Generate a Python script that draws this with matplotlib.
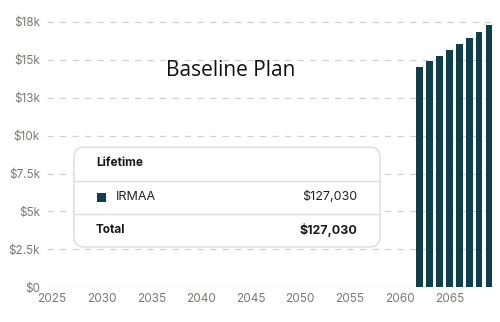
import matplotlib.pyplot as plt
from matplotlib.patches import FancyBboxPatch, Rectangle
from matplotlib.lines import Line2D

# yearly IRMAA surcharge
years = [2062, 2063, 2064, 2065, 2066, 2067, 2068, 2069]
irmaa = [14540, 14910, 15270, 15660, 16060, 16450, 16850, 17290]

y_ticks = [0, 2500, 5000, 7500, 10000, 12500, 15000, 17500]
y_labels = ["$0", "$2.5k", "$5k", "$7.5k", "$10k", "$13k", "$15k", "$18k"]
x_ticks = [2025, 2030, 2035, 2040, 2045, 2050, 2055, 2060, 2065]

lifetime_label = "IRMAA"
lifetime_value = "$127,030"
total_value = "$127,030"

bar_color = "#0f3f4b"
tick_color = "#7a7a76"

fig = plt.figure(figsize=(5, 3.22), dpi=100)
ax = fig.add_axes([0.094, 0.108, 0.894, 0.861])

ax.bar(years, irmaa, width=0.68, color=bar_color, zorder=3)

ax.set_xlim(2024.5, 2069.5)
ax.set_ylim(0, 18290)
ax.set_yticks(y_ticks)
ax.set_yticklabels(y_labels)
ax.set_xticks(x_ticks)

for v in y_ticks[1:]:
    ax.axhline(v, color="#d0d0d0", lw=0.9, ls=(0, (5, 5)), zorder=1)
ax.axhline(0, color="#d8d8d8", lw=1.0, zorder=2)

for s in ax.spines.values():
    s.set_visible(False)
ax.tick_params(length=0, colors=tick_color, labelsize=8.5)
ax.tick_params(axis="y", pad=5)
ax.tick_params(axis="x", pad=4)
for lab in ax.get_xticklabels() + ax.get_yticklabels():
    lab.set_family("Inter")

fig.text(0.461, 0.78, "Baseline Plan", fontsize=15, family="Open Sans",
         ha="center", va="center", color="#111111")

# summary card
card = FancyBboxPatch((0.148, 0.233), 0.612, 0.31,
                      boxstyle="round,pad=0,rounding_size=0.02",
                      transform=fig.transFigure, facecolor="white",
                      edgecolor="#dcdcdc", lw=1.0, zorder=5,
                      mutation_aspect=500 / 322)
fig.add_artist(card)
for yl in (0.438, 0.335):
    fig.add_artist(Line2D([0.148, 0.76], [yl, yl], transform=fig.transFigure,
                          color="#dedede", lw=1.0, zorder=6))

fig.text(0.192, 0.494, "Lifetime", fontsize=8.5, weight="bold", family="Inter",
         va="center", color="#1a1a1a", zorder=7)
fig.add_artist(Rectangle((0.194, 0.374), 0.018, 0.028, transform=fig.transFigure,
                         facecolor=bar_color, edgecolor="none", zorder=7))
fig.text(0.232, 0.388, lifetime_label, fontsize=9, family="Inter",
         va="center", color="#222222", zorder=7)
fig.text(0.714, 0.388, lifetime_value, fontsize=9, family="Inter",
         va="center", ha="right", color="#222222", zorder=7)
fig.text(0.192, 0.286, "Total", fontsize=8.5, weight="bold", family="Inter",
         va="center", color="#1a1a1a", zorder=7)
fig.text(0.714, 0.286, total_value, fontsize=9, weight="bold", family="Inter",
         va="center", ha="right", color="#1a1a1a", zorder=7)

fig.savefig("out.png", dpi=100, facecolor="white")
